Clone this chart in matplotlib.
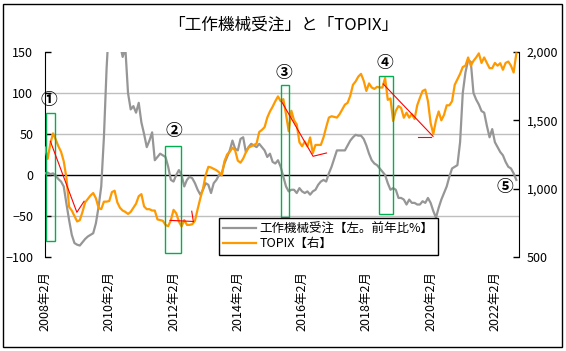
import numpy as np
import matplotlib.pyplot as plt
from matplotlib.patches import Rectangle

plt.rcParams['font.family'] = ['Noto Sans CJK JP', 'DejaVu Sans']

# monthly data, 2008/02 .. 2022/10
# machine tool orders, YoY %
orders = [2, 3, 1, 2, -1, -5, -8, -14, -35, -55,
          -73, -83, -85, -86, -82, -78, -75, -73, -71, -59,
          -39, -14, 46, 130, 190, 230, 260, 250, 160, 144,
          155, 100, 80, 84, 76, 88, 64, 50, 34, 42,
          52, 18, 22, 26, 24, 22, 10, -6, -8, 0,
          6, 0, -14, -6, -2, -4, -10, -18, -24, -18,
          -10, -12, -22, -10, -6, 0, 2, 14, 22, 30,
          42, 32, 30, 44, 46, 28, 34, 38, 36, 34,
          38, 34, 30, 22, 26, 16, 14, 18, 10, -2,
          -14, -20, -18, -18, -22, -16, -20, -22, -20, -24,
          -20, -18, -12, -8, -6, -8, 2, 10, 20, 30,
          30, 30, 30, 36, 42, 46, 49, 48, 48, 44,
          36, 26, 18, 14, 12, 8, 4, 0, -10, -18,
          -16, -18, -28, -28, -30, -36, -30, -34, -34, -36,
          -36, -32, -34, -28, -34, -44, -52, -40, -30, -22,
          -14, -2, 8, 10, 12, 40, 100, 125, 140, 138,
          100, 92, 86, 78, 76, 60, 46, 56, 40, 34,
          28, 24, 16, 10, 8, 2, -6]

# TOPIX
topix = [1300, 1218, 1330, 1405, 1360, 1310, 1270, 1200, 1080, 867,
         840, 800, 760, 770, 830, 900, 925, 950, 968, 930,
         860, 850, 905, 905, 910, 975, 985, 900, 860, 840,
         830, 815, 830, 860, 890, 945, 960, 870, 850, 850,
         840, 840, 775, 770, 765, 735, 725, 770, 845, 820,
         760, 723, 770, 735, 735, 740, 765, 850, 930, 1000,
         1100, 1160, 1155, 1145, 1135, 1120, 1097, 1200, 1250, 1270,
         1300, 1280, 1205, 1190, 1220, 1265, 1300, 1310, 1320, 1330,
         1415, 1430, 1450, 1520, 1565, 1600, 1640, 1675, 1640, 1655,
         1544, 1420, 1570, 1500, 1470, 1340, 1310, 1345, 1310, 1375,
         1260, 1320, 1320, 1320, 1375, 1450, 1520, 1530, 1525, 1520,
         1545, 1580, 1615, 1628, 1680, 1760, 1785, 1820, 1840, 1790,
         1715, 1770, 1740, 1730, 1745, 1740, 1740, 1810, 1650, 1660,
         1495, 1570, 1605, 1590, 1519, 1556, 1520, 1545, 1510, 1610,
         1665, 1715, 1725, 1640, 1480, 1400, 1500, 1565, 1500, 1540,
         1610, 1610, 1640, 1760, 1800, 1840, 1890, 1900, 1960, 1900,
         1935, 1960, 1990, 1920, 1960, 1920, 1882, 1882, 1920, 1900,
         1918, 1870, 1920, 1930, 1900, 1850, 1990]

tick_labels = ['2008年2月', '2010年2月', '2012年2月', '2014年2月',
               '2016年2月', '2018年2月', '2020年2月', '2022年2月']

months = np.arange(len(orders))

fig = plt.figure(figsize=(5.66, 3.51), dpi=100)
ax = fig.add_axes([45/566, 1-257/351, 474/566, 205/351])
ax2 = ax.twinx()

for v in [100, 50, -50]:
    ax.axhline(v, color='#bfbfbf', lw=1, zorder=1)
ax.axhline(0, color='black', lw=1, zorder=2)

l1, = ax.plot(months, orders, color='#969696', lw=1.6, zorder=3)
l2, = ax2.plot(months, topix, color='#ff9900', lw=1.6, zorder=3)

ax.set_xlim(0, 177)
ax.set_ylim(-100, 150)
ax2.set_ylim(500, 2000)
ax.set_yticks([-100, -50, 0, 50, 100, 150])
ax2.set_yticks([500, 1000, 1500, 2000])
ax2.set_yticklabels(['{:,}'.format(t) for t in [500, 1000, 1500, 2000]])
ax.set_xticks(np.arange(0, 177, 24))
ax.set_xticklabels(tick_labels, rotation=90)

for a in (ax, ax2):
    a.spines['top'].set_visible(False)
    a.spines['bottom'].set_visible(False)
ax.spines['right'].set_visible(False)
ax2.spines['left'].set_visible(False)
ax.tick_params(axis='y', direction='in', length=4, width=1, pad=8.5, labelsize=9)
ax2.tick_params(axis='y', direction='in', length=4, width=1, pad=5.5, labelsize=9)
ax.tick_params(axis='x', length=0, pad=10, labelsize=9)

# green boxes (left axis units)
boxes = [(0.2, -80.5, 3.6, 156), (44.7, -95, 6.0, 130.5),
         (88.0, -51, 3.0, 161), (124.7, -47.6, 5.2, 168.3)]
for x0, y0, w, h in boxes:
    ax2.add_patch(Rectangle((x0, y0), w, h, transform=ax.transData,
                            fill=False, edgecolor='#00b050', lw=1, zorder=5))

# red trend lines (TOPIX units)
red_lines = [([2.0, 11.9, 14.6], [1347, 827, 908]),
             ([46.7, 55.4], [768, 760]),
             ([54.8, 55.4], [835, 758]),
             ([88.3, 100.1, 105.1], [1639, 1237, 1261]),
             ([126.3, 144.9], [1766, 1383]),
             ([139.3, 144.2], [1376, 1376])]
for xs, ys in red_lines:
    ax2.plot(xs, ys, color='red', lw=0.8, zorder=6)

marks = [('①', 1.3, 91.5), ('②', 48.0, 53.7), ('③', 89.2, 124.4),
         ('④', 127.0, 136.6), ('⑤', 171.8, -14.6)]
for s, mx, my in marks:
    ax2.text(mx, my, s, transform=ax.transData, ha='center', va='center',
             fontsize=12, fontweight='bold', zorder=7)

leg = ax2.legend([l1, l2], ['工作機械受注【左。前年比%】', 'TOPIX【右】'],
                 loc='upper left', bbox_to_anchor=(219/566, 1-218/351),
                 bbox_transform=fig.transFigure, frameon=True, fancybox=False,
                 edgecolor='black', framealpha=1, fontsize=9, handlelength=2.6,
                 borderpad=0.35, labelspacing=0.15, borderaxespad=0, handletextpad=0.3)
leg.get_frame().set_linewidth(1.0)
leg.set_zorder(10)

fig.text(0.5, 1-25/351, '「工作機械受注」と「TOPIX」', ha='center', va='center', fontsize=12)
fig.patches.append(Rectangle((3/566, 1-347/351), 559/566, 343/351, transform=fig.transFigure,
                             fill=False, edgecolor='black', lw=1))

fig.savefig('out.png', dpi=100)
